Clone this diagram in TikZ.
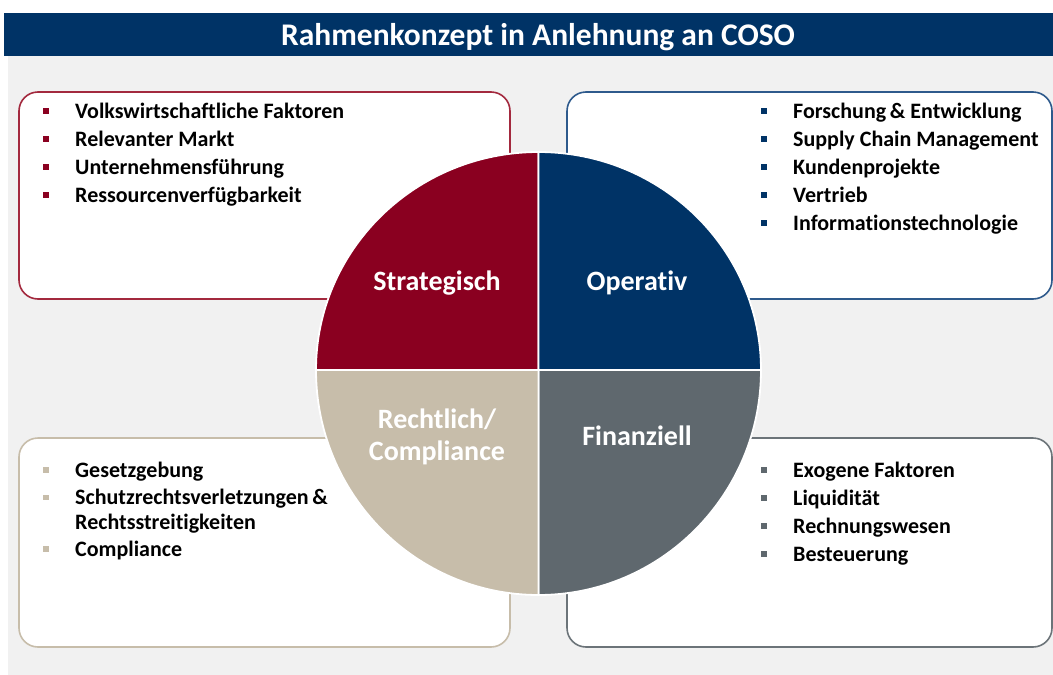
\documentclass[tikz,border=0pt]{standalone}
\usepackage{fontspec}
\setmainfont{Carlito}[Ligatures=NoCommon]
\begin{document}
\begin{tikzpicture}[x=1pt,y=-1pt,
  catbox/.style={draw=#1,line width=1.6pt,fill=white,rounded corners=19pt},
  quad/.style={fill=#1,draw=white,line width=1.8pt},
  qlabel/.style={text=white,font=\bfseries\fontsize{28}{32}\selectfont,align=center},
  item/.style={anchor=base west,inner sep=0pt,font=\bfseries\fontsize{22}{26}\selectfont,text=black},
  sq/.style={fill=#1,minimum size=5.5pt,inner sep=0pt}]
\definecolor{navy}{HTML}{003366}
\definecolor{wine}{HTML}{8A0020}
\definecolor{wineline}{HTML}{A3293E}
\definecolor{navyline}{HTML}{2E5A8C}
\definecolor{sand}{HTML}{C7BDAA}
\definecolor{slate}{HTML}{5F686E}
\definecolor{slateline}{HTML}{6C7479}
\definecolor{pale}{HTML}{F1F1F1}

\useasboundingbox (0,0) rectangle (1053,675);
\fill[white] (0,0) rectangle (1053,675);
% backdrop and title banner
\fill[pale] (8,56) rectangle (1053,675);
\fill[navy] (4,12.5) rectangle (1053,56);
\node[text=white,font=\bfseries\fontsize{31.5}{36}\selectfont,anchor=base] (title) at (538,45) {Rahmenkonzept in Anlehnung an COSO};

% four category boxes
\draw[catbox=wineline] (19,92) rectangle (510,299);
\draw[catbox=navyline] (567,92) rectangle (1052,299);
\draw[catbox=sand] (19,438) rectangle (510,647);
\draw[catbox=slateline] (567,438) rectangle (1052,647);

% quartered disc (y axis points down, so 270 degrees is straight up)
\coordinate (c) at (538.5,370);
\draw[quad=wine] (c) -- ++(-222.5,0) arc[start angle=180,end angle=270,x radius=222.5,y radius=218] -- cycle;
\draw[quad=navy] (c) -- ++(0,-218) arc[start angle=270,end angle=360,x radius=222.5,y radius=218] -- cycle;
\draw[quad=slate] (c) -- ++(222.5,0) arc[start angle=0,end angle=90,x radius=222.5,y radius=225] -- cycle;
\draw[quad=sand] (c) -- ++(0,225) arc[start angle=90,end angle=180,x radius=222.5,y radius=225] -- cycle;

\node[qlabel] (strat) at (437,283) {Strategisch};
\node[qlabel] (oper) at (637,283) {Operativ};
\node[qlabel] (recht) at (437,437) {Rechtlich/\\Compliance};
\node[qlabel] (fin) at (637,436) {Finanziell};

% Strategisch items
\foreach \t [count=\i] in {Volkswirtschaftliche Faktoren,Relevanter Markt,Unternehmensführung,Ressourcenverfügbarkeit}{
  \node[sq=wine] (sb\i) at (46,{118+28*(\i-1)-7}) {};
  \node[item] (st\i) at (75,{118+28*(\i-1)}) {\t};
}
% Operativ items
\foreach \t [count=\i] in {Forschung\,\& Entwicklung,Supply Chain Management,Kundenprojekte,Vertrieb,Informationstechnologie}{
  \node[sq=navy] (ob\i) at (764,{118+28*(\i-1)-7}) {};
  \node[item] (ot\i) at (793,{118+28*(\i-1)}) {\t};
}
% Rechtlich items
\node[sq=sand] (rb1) at (46,470) {};
\node[item] (rt1) at (75,477) {Gesetzgebung};
\node[sq=sand] (rb2) at (46,497.5) {};
\node[item] (rt2) at (75,504.5) {Schutzrechtsverletzungen\,\&};
\node[item] (rt3) at (75,529) {Rechtsstreitigkeiten};
\node[sq=sand] (rb3) at (46,549) {};
\node[item] (rt4) at (75,556) {Compliance};
% Finanziell items
\foreach \t [count=\i] in {Exogene Faktoren,Liquidität,Rechnungswesen,Besteuerung}{
  \node[sq=slate] (fb\i) at (764,{477+28*(\i-1)-7}) {};
  \node[item] (ft\i) at (793,{477+28*(\i-1)}) {\t};
}
\end{tikzpicture}
\end{document}
